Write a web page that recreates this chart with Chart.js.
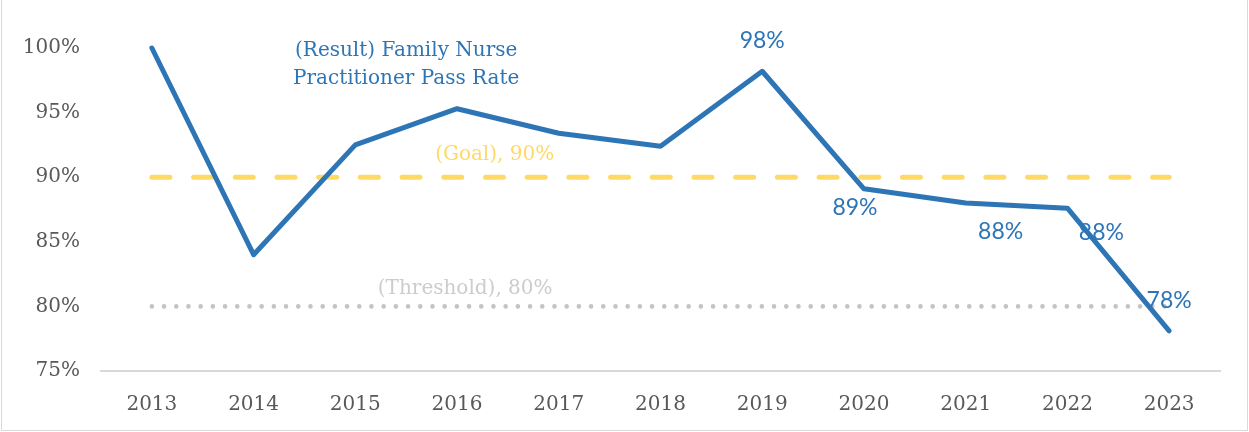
<!DOCTYPE html>
<html>
<head>
<meta charset="utf-8">
<script src="https://cdn.jsdelivr.net/npm/chart.js@4.4.1/dist/chart.umd.min.js"></script>
<style>
  html, body { margin: 0; padding: 0; background: #fff; }
  #wrap { position: relative; width: 1249px; height: 432px; }
  #frame { position: absolute; left: 1px; top: -1px; width: 1245px; height: 430px; border: 1px solid #d9d9d9; pointer-events: none; }
</style>
</head>
<body>
<div id="wrap">
  <canvas id="chart" width="1249" height="432"></canvas>
  <div id="frame"></div>
</div>
<script>
'use strict';

// Chart values
var years = ['2013', '2014', '2015', '2016', '2017', '2018', '2019', '2020', '2021', '2022', '2023'];
var passRate = [100, 84.0, 92.5, 95.3, 93.4, 92.4, 98.2, 89.1, 88.0, 87.6, 78.1];
var goalRate = [90, 90, 90, 90, 90, 90, 90, 90, 90, 90, 90];
var thresholdRate = [80, 80, 80, 80, 80, 80, 80, 80, 80, 80, 80];
var yTicks = [75, 80, 85, 90, 95, 100];

// Point labels shown on the result line (index -> text)
var pointLabels = [
  { index: 6, text: '98%', dx: 0, dy: -31 },
  { index: 7, text: '89%', dx: -9, dy: 19 },
  { index: 8, text: '88%', dx: 35, dy: 29 },
  { index: 9, text: '88%', dx: 34, dy: 24 },
  { index: 10, text: '78%', dx: 0, dy: -30 }
];

var BLUE = '#2e75b6', GOLD = '#ffd966', GREY = '#c4c4c4';
var SERIF = '"DejaVu Serif", serif';
var SANS = 'Lato, "Open Sans", sans-serif';

var labelPlugin = {
  id: 'labels',
  afterDatasetsDraw: function (chart) {
    var ctx = chart.ctx,
        x = chart.scales.x,
        y = chart.scales.y;
    ctx.save();
    ctx.textAlign = 'center';
    ctx.textBaseline = 'middle';

    // series name annotation
    ctx.fillStyle = BLUE;
    ctx.font = '20px ' + SERIF;
    ctx.fillText('(Result) Family Nurse', x.getPixelForValue(2.5), y.getPixelForValue(100) + 3);
    ctx.fillText('Practitioner Pass Rate', x.getPixelForValue(2.5), y.getPixelForValue(100) + 31);

    // reference line labels
    ctx.fillStyle = GOLD;
    ctx.fillText('(Goal), 90%', x.getPixelForValue(3.37), y.getPixelForValue(goalRate[0]) - 22);
    ctx.fillStyle = '#cccccc';
    ctx.fillText('(Threshold), 80%', x.getPixelForValue(3.08), y.getPixelForValue(thresholdRate[0]) - 18);

    // point value labels
    ctx.fillStyle = BLUE;
    ctx.font = '23px ' + SANS;
    pointLabels.forEach(function (p) {
      ctx.fillText(p.text, x.getPixelForValue(p.index) + p.dx, y.getPixelForValue(passRate[p.index]) + p.dy);
    });
    ctx.restore();
  }
};

new Chart(document.getElementById('chart').getContext('2d'), {
  type: 'line',
  data: {
    labels: years,
    datasets: [{
      label: 'Threshold',
      data: thresholdRate,
      borderColor: GREY,
      borderWidth: 4.6,
      borderDash: [0, 12.2],
      borderCapStyle: 'round',
      pointRadius: 0,
      tension: 0,
      order: 3
    }, {
      label: 'Goal',
      data: goalRate,
      borderColor: GOLD,
      borderWidth: 5,
      borderDash: [18, 23.7],
      borderCapStyle: 'round',
      pointRadius: 0,
      tension: 0,
      order: 2
    }, {
      label: 'Result',
      data: passRate,
      borderColor: BLUE,
      borderWidth: 5,
      borderCapStyle: 'round',
      borderJoinStyle: 'round',
      pointRadius: 0,
      tension: 0,
      clip: false,
      order: 1
    }]
  },
  options: {
    responsive: false,
    animation: false,
    layout: { padding: { top: 48, right: 29, bottom: 0, left: 0 } },
    plugins: { legend: { display: false }, tooltip: { enabled: false } },
    scales: {
      x: {
        offset: true,
        grid: { display: false, drawTicks: false },
        border: { display: true, color: '#d9d9d9', width: 2 },
        ticks: { color: '#595959', font: { family: SERIF, size: 20 }, padding: 22 },
        afterFit: function (scale) { scale.height = 61; }
      },
      y: {
        min: 75,
        max: 100,
        afterBuildTicks: function (scale) {
          scale.ticks = yTicks.map(function (v) { return { value: v }; });
        },
        grid: { display: false, drawTicks: false },
        border: { display: false },
        ticks: {
          color: '#595959',
          font: { family: SERIF, size: 20 },
          padding: 21,
          callback: function (v) { return v + '%'; }
        },
        afterFit: function (scale) { scale.width = 101; }
      }
    }
  },
  plugins: [labelPlugin]
});
</script>
</body>
</html>
